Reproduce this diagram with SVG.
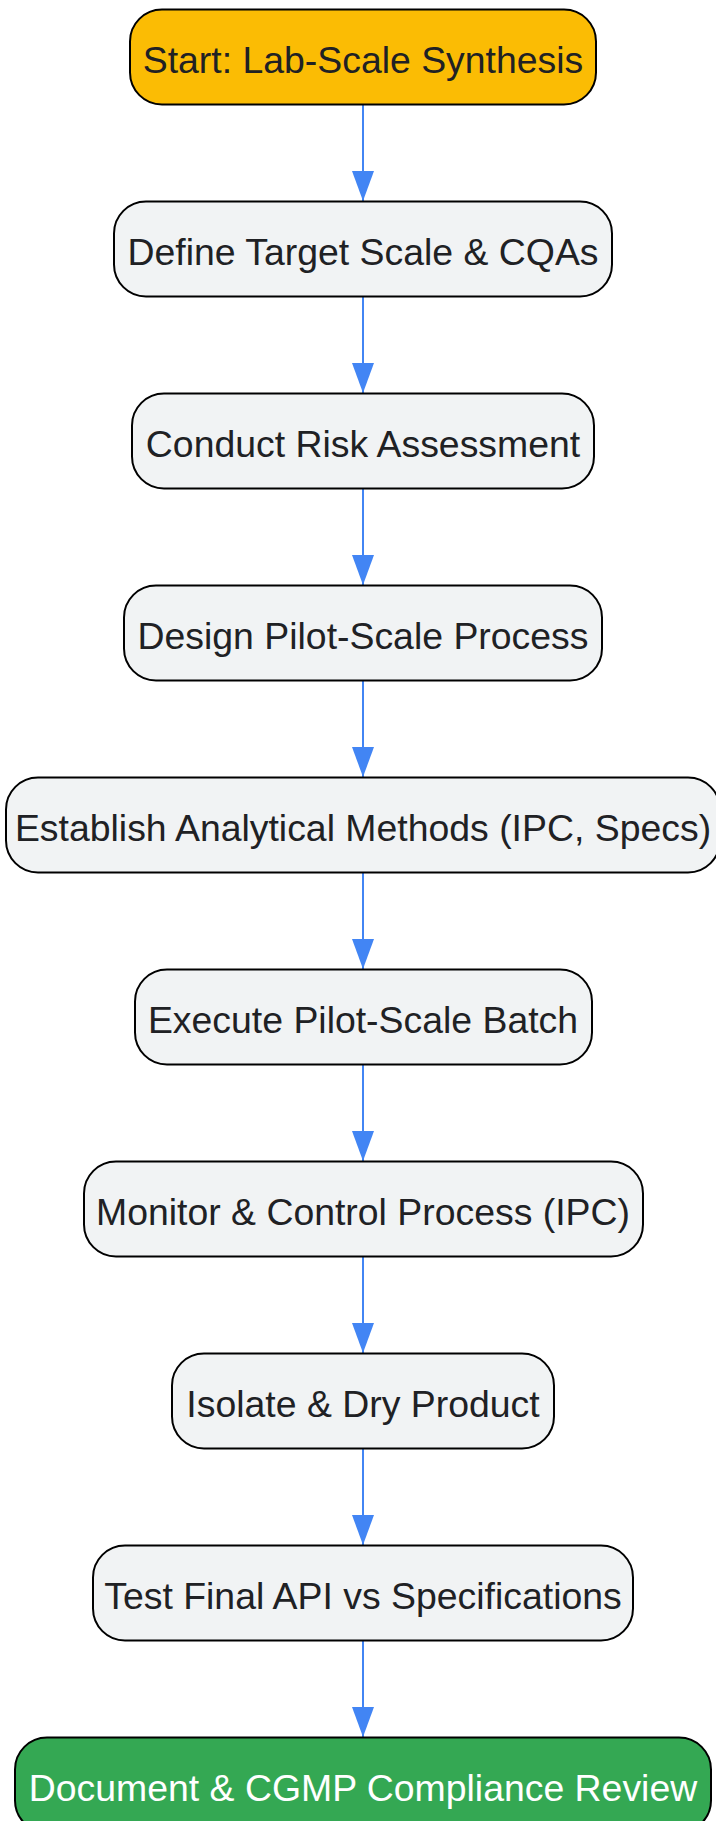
<svg xmlns="http://www.w3.org/2000/svg" width="716" height="1821" viewBox="0 0 716 1821">
<style>
.n rect{fill:#F1F3F4;stroke:#000;stroke-width:2}
.n text{font-family:"Liberation Sans",Arial,sans-serif;font-size:37.4px;fill:#202124;text-anchor:middle}
#n1 rect{fill:#FBBC04}
#n10 rect{fill:#34A853}
#n10 text{fill:#FFFFFF}
.e{stroke:#4285F4;stroke-width:2;fill:none;marker-end:url(#ah)}
</style>
<defs>
<marker id="ah" markerUnits="userSpaceOnUse" markerWidth="30" markerHeight="22" refX="30" refY="11" orient="auto" viewBox="0 0 30 22">
<path d="M0,0 L30,11 L0,22 Z" fill="#4285F4"/>
</marker>
</defs>
<g id="edges">
<line class="e" x1="363" y1="105" x2="363" y2="201"/>
<line class="e" x1="363" y1="297" x2="363" y2="393"/>
<line class="e" x1="363" y1="489" x2="363" y2="585"/>
<line class="e" x1="363" y1="681" x2="363" y2="777"/>
<line class="e" x1="363" y1="873" x2="363" y2="969"/>
<line class="e" x1="363" y1="1065" x2="363" y2="1161"/>
<line class="e" x1="363" y1="1257" x2="363" y2="1353"/>
<line class="e" x1="363" y1="1449" x2="363" y2="1545"/>
<line class="e" x1="363" y1="1641" x2="363" y2="1737"/>
</g>
<g id="n1" class="n"><rect x="130" y="9.5" width="466" height="95" rx="32"/><text x="363" y="72.5">Start: Lab-Scale Synthesis</text></g>
<g id="n2" class="n"><rect x="114" y="201.5" width="498" height="95" rx="32"/><text x="363" y="264.5">Define Target Scale &amp; CQAs</text></g>
<g id="n3" class="n"><rect x="132" y="393.5" width="462" height="95" rx="32"/><text x="363" y="456.5">Conduct Risk Assessment</text></g>
<g id="n4" class="n"><rect x="124" y="585.5" width="478" height="95" rx="32"/><text x="363" y="648.5">Design Pilot-Scale Process</text></g>
<g id="n5" class="n"><rect x="6" y="777.5" width="714" height="95" rx="32"/><text x="363" y="840.5">Establish Analytical Methods (IPC, Specs)</text></g>
<g id="n6" class="n"><rect x="135" y="969.5" width="457" height="95" rx="32"/><text x="363" y="1032.5">Execute Pilot-Scale Batch</text></g>
<g id="n7" class="n"><rect x="84" y="1161.5" width="559" height="95" rx="32"/><text x="363" y="1224.5">Monitor &amp; Control Process (IPC)</text></g>
<g id="n8" class="n"><rect x="172" y="1353.5" width="382" height="95" rx="32"/><text x="363" y="1416.5">Isolate &amp; Dry Product</text></g>
<g id="n9" class="n"><rect x="93" y="1545.5" width="540" height="95" rx="32"/><text x="363" y="1608.5">Test Final API vs Specifications</text></g>
<g id="n10" class="n"><rect x="15" y="1737.5" width="696" height="95" rx="32"/><text x="363" y="1800.5">Document &amp; CGMP Compliance Review</text></g>
</svg>
